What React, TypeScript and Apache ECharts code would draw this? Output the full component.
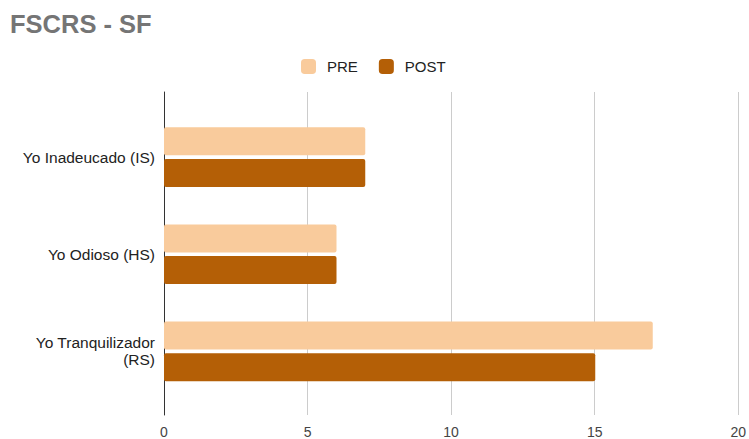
import React, { useEffect, useRef } from "react";
import * as echarts from "echarts";

const categories = ["Yo Inadeucado (IS)", "Yo Odioso (HS)", "Yo Tranquilizador\n(RS)"];
const preValues = [7, 6, 17];
const postValues = [7, 6, 15];
const xTicks = { min: 0, max: 20, interval: 5 };

const FONT = "'Liberation Sans', Arial, sans-serif";

export default function App() {
  const ref = useRef<HTMLDivElement>(null);

  useEffect(() => {
    if (!ref.current) return;
    const chart = echarts.init(ref.current, undefined, { renderer: "svg" });
    chart.setOption({
      animation: false,
      backgroundColor: "#ffffff",
      title: {
        text: "FSCRS - SF",
        left: 10,
        top: 11,
        padding: 0,
        textStyle: { fontFamily: FONT, fontSize: 25.5, fontWeight: "bold", color: "#757575" },
      },
      legend: {
        data: ["PRE", "POST"],
        left: 301,
        top: 59,
        padding: 0,
        icon: "roundRect",
        itemWidth: 15,
        itemHeight: 15,
        itemGap: 21,
        textStyle: { fontFamily: FONT, fontSize: 15, color: "#222222", padding: [0, 0, 0, 6] },
      },
      grid: [
        { left: 164, right: 10, top: 92, bottom: 23 },
        { left: 164, right: 10, top: 108.5, bottom: 39 },
      ],
      xAxis: [
        {
          type: "value",
          gridIndex: 0,
          min: xTicks.min,
          max: xTicks.max,
          interval: xTicks.interval,
          axisLine: { show: false },
          axisTick: { show: false },
          axisLabel: { fontFamily: FONT, fontSize: 14, color: "#444444", margin: 10 },
          splitLine: { show: true, lineStyle: { color: "#cccccc", width: 1 } },
        },
        {
          type: "value",
          gridIndex: 1,
          min: xTicks.min,
          max: xTicks.max,
          interval: xTicks.interval,
          show: false,
          splitLine: { show: false },
        },
      ],
      yAxis: [
        {
          type: "category",
          gridIndex: 0,
          data: [""],
          axisLine: { show: true, lineStyle: { color: "#333333", width: 1 } },
          axisTick: { show: false },
          axisLabel: { show: false },
        },
        {
          type: "category",
          gridIndex: 1,
          data: categories,
          inverse: true,
          axisLine: { show: false },
          axisTick: { show: false },
          axisLabel: {
            fontFamily: FONT,
            fontSize: 15.5,
            color: "#222222",
            margin: 9,
            lineHeight: 17,
            align: "right",
          },
        },
      ],
      series: [
        {
          name: "PRE",
          type: "bar",
          xAxisIndex: 1,
          yAxisIndex: 1,
          data: preValues,
          barWidth: 28,
          barGap: "13%",
          itemStyle: { color: "#f9cb9c", borderRadius: 2 },
        },
        {
          name: "POST",
          type: "bar",
          xAxisIndex: 1,
          yAxisIndex: 1,
          data: postValues,
          barWidth: 28,
          barGap: "13%",
          itemStyle: { color: "#b45f06", borderRadius: 2 },
        },
      ],
    });
    return () => chart.dispose();
  }, []);

  return <div ref={ref} style={{ width: 749, height: 439, position: "absolute", left: 0, top: 0 }} />;
}
